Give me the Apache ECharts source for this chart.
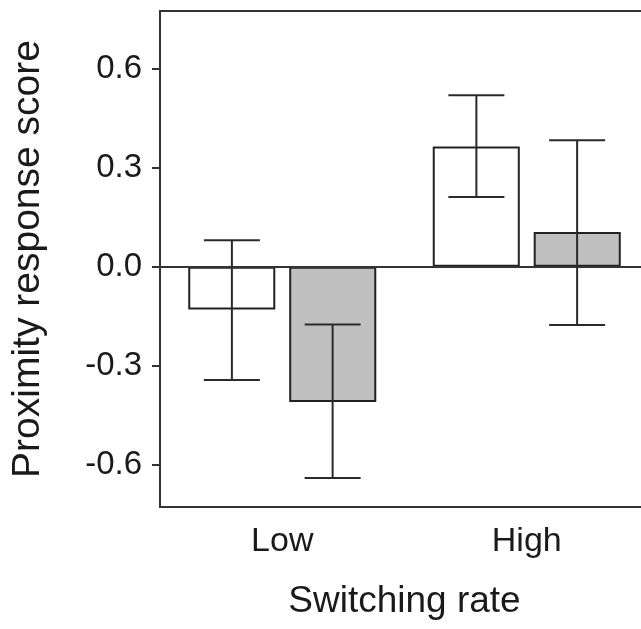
<!DOCTYPE html>
<html>
<head>
<meta charset="utf-8">
<script src="https://cdn.jsdelivr.net/npm/echarts@6/dist/echarts.min.js"></script>
<style>
  html, body { margin: 0; padding: 0; background: #fff; }
  #main { width: 641px; height: 629px; }
</style>
</head>
<body>
<div id="main"></div>
<script>
// categories and values
var categories = ['Low', 'High'];
var whiteMeans = [-0.129, 0.364];
var whiteLow   = [-0.343, 0.211];
var whiteHigh  = [0.080, 0.519];
var grayMeans  = [-0.409, 0.105];
var grayLow    = [-0.639, -0.176];
var grayHigh   = [-0.175, 0.383];
var yTicks = [-0.6, -0.3, 0, 0.3, 0.6];

var myChart = echarts.init(document.getElementById('main'));

/**
 * error bars: vertical line + caps, shifted to the bar position in the band
 */
var errRender = function (offsetFrac) {
    return function (params, api) {
        var i = api.value(0);
        var lo = api.coord([i, api.value(1)]);
        var hi = api.coord([i, api.value(2)]);
        var band = api.size([1, 0])[0];
        var x = lo[0] + band * offsetFrac;
        var half = band * 0.1145;
        var style = { stroke: '#2a2a2a', lineWidth: 2 };
        return {
            type: 'group',
            children: [
                { type: 'line', shape: { x1: x, y1: lo[1], x2: x, y2: hi[1] }, style: style },
                { type: 'line', shape: { x1: x - half, y1: lo[1], x2: x + half, y2: lo[1] }, style: style },
                { type: 'line', shape: { x1: x - half, y1: hi[1], x2: x + half, y2: hi[1] }, style: style }
            ]
        };
    };
};

var errData = function (lows, highs) {
    var out = [];
    for (var i = 0; i < lows.length; i++) {
        out.push([i, lows[i], highs[i]]);
    }
    return out;
};

var font = '"Liberation Sans", Arial, Helvetica, sans-serif';

var option = {
    animation: false,
    grid: {
        left: 160,
        right: -8,    // right edge falls outside the picture, as in the original crop
        top: 11,
        bottom: 122,
        outerBoundsMode: 'none',
        show: true,
        borderColor: '#333',
        borderWidth: 2,
        backgroundColor: 'transparent'
    },
    xAxis: {
        type: 'category',
        data: categories,
        name: 'Switching rate',
        nameLocation: 'middle',
        nameGap: 76,
        nameTextStyle: { fontSize: 37, color: '#1a1a1a', fontFamily: font },
        axisLine: { onZero: false, lineStyle: { color: '#333', width: 2 } },
        axisTick: { alignWithLabel: true, length: 8, lineStyle: { color: '#333', width: 2 } },
        axisLabel: { fontSize: 34, color: '#1a1a1a', fontFamily: font, margin: 18 },
        splitLine: { show: false }
    },
    yAxis: {
        type: 'value',
        min: -0.727,
        max: 0.774,
        name: 'Proximity response score',
        nameLocation: 'middle',
        nameGap: 112,
        nameTextStyle: { fontSize: 39, color: '#1a1a1a', fontFamily: font },
        axisLine: { show: true, lineStyle: { color: '#333', width: 2 } },
        axisTick: { show: true, length: 8, customValues: yTicks, lineStyle: { color: '#333', width: 2 } },
        axisLabel: {
            fontSize: 33, color: '#1a1a1a', fontFamily: font, margin: 18,
            customValues: yTicks,
            formatter: function (v) { return v.toFixed(1); }
        },
        splitLine: { show: false }
    },
    series: [
        {
            name: 'white',
            type: 'bar',
            data: whiteMeans,
            barWidth: '35.6%',
            barGap: '16%',
            itemStyle: { color: '#ffffff', borderColor: '#222', borderWidth: 2 },
            markLine: {
                silent: true,
                symbol: ['none', 'none'],
                label: { show: false },
                lineStyle: { color: '#333', width: 2, type: 'solid' },
                data: [{ yAxis: 0 }]
            }
        },
        {
            name: 'gray',
            type: 'bar',
            data: grayMeans,
            barWidth: '35.6%',
            barGap: '16%',
            itemStyle: { color: '#c0c0c0', borderColor: '#222', borderWidth: 2 }
        },
        {
            type: 'custom',
            renderItem: errRender(-0.206),
            data: errData(whiteLow, whiteHigh),
            encode: { x: 0, y: [1, 2] },
            z: 10
        },
        {
            type: 'custom',
            renderItem: errRender(0.206),
            data: errData(grayLow, grayHigh),
            encode: { x: 0, y: [1, 2] },
            z: 10
        }
    ]
};
myChart.setOption(option);
</script>
</body>
</html>
